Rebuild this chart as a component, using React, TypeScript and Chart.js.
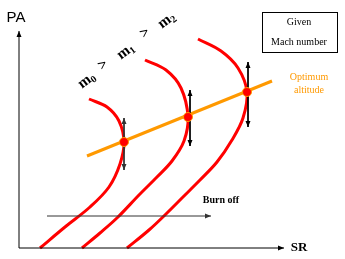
import React, { useEffect, useRef } from "react";
import { Chart, registerables } from "chart.js";

Chart.register(...registerables);

const W = 345;
const H = 259;

// Diagram coordinates (x to the right, y downward, same units as the picture)
const curveM0 = [
  { x: 89, y: 99 }, { x: 107, y: 107 }, { x: 119, y: 121 }, { x: 124, y: 142 },
  { x: 120, y: 164 }, { x: 109, y: 187 }, { x: 90, y: 207 }, { x: 65, y: 227 }, { x: 40, y: 248 },
];
const curveM1 = [
  { x: 145, y: 60 }, { x: 166, y: 70 }, { x: 181, y: 88 }, { x: 188, y: 117 },
  { x: 184, y: 141 }, { x: 172, y: 161 }, { x: 157, y: 177 }, { x: 139, y: 195 },
  { x: 118, y: 217 }, { x: 100, y: 233 }, { x: 82, y: 248 },
];
const curveM2 = [
  { x: 198, y: 39 }, { x: 221, y: 51 }, { x: 238, y: 68 }, { x: 247, y: 92 },
  { x: 243, y: 118 }, { x: 232, y: 140 }, { x: 217, y: 162 }, { x: 200, y: 180 },
  { x: 183, y: 197 }, { x: 167, y: 213 }, { x: 149, y: 230 }, { x: 127, y: 248 },
];
const optimumLine = [{ x: 87, y: 156 }, { x: 272, y: 81 }];
const optimumPoints = [{ x: 124, y: 142 }, { x: 188, y: 117 }, { x: 247, y: 92 }];

// arrows: from -> to, heads: "end" | "both"
const arrows = [
  { from: { x: 19, y: 248 }, to: { x: 19, y: 31 }, heads: "end", color: "#000000" },
  { from: { x: 19, y: 248 }, to: { x: 284, y: 248 }, heads: "end", color: "#000000" },
  { from: { x: 47, y: 216 }, to: { x: 211, y: 216 }, heads: "end", color: "#333333" },
  { from: { x: 124, y: 118 }, to: { x: 124, y: 170 }, heads: "both", color: "#333333" },
  { from: { x: 190, y: 90 }, to: { x: 190, y: 146 }, heads: "both", color: "#000000" },
  { from: { x: 248, y: 62 }, to: { x: 248, y: 127 }, heads: "both", color: "#000000" },
];

const machLabels = [
  { base: "m", sub: "0", x: 87, y: 80 },
  { base: ">", sub: "", x: 103, y: 65 },
  { base: "m", sub: "1", x: 126, y: 51 },
  { base: ">", sub: "", x: 145, y: 33 },
  { base: "m", sub: "2", x: 167, y: 20 },
];

const texts = [
  { text: "PA", x: 16, y: 18, font: "15px 'Liberation Sans', Arial, sans-serif", color: "#000", align: "center" },
  { text: "SR", x: 299, y: 248, font: "bold 13px 'Liberation Serif', 'Times New Roman', serif", color: "#000", align: "center" },
  { text: "Burn off", x: 221, y: 200, font: "bold 10px 'Liberation Serif', 'Times New Roman', serif", color: "#000", align: "center" },
  { text: "Given", x: 299, y: 22, font: "10px 'Liberation Serif', 'Times New Roman', serif", color: "#000", align: "center" },
  { text: "Mach number", x: 299, y: 42, font: "10px 'Liberation Serif', 'Times New Roman', serif", color: "#000", align: "center" },
  { text: "Optimum", x: 309, y: 77, font: "10px 'Liberation Serif', 'Times New Roman', serif", color: "#FF9900", align: "center" },
  { text: "altitude", x: 309, y: 90, font: "10px 'Liberation Serif', 'Times New Roman', serif", color: "#FF9900", align: "center" },
];
const givenBox = { x1: 262, y1: 12, x2: 337, y2: 52 };
const machAngle = -37;

const annotationPlugin = {
  id: "diagramAnnotations",
  afterDatasetsDraw(chart: any) {
    const ctx = chart.ctx;
    const xs = chart.scales.x;
    const ys = chart.scales.y;
    const px = (v: number) => xs.getPixelForValue(v);
    const py = (v: number) => ys.getPixelForValue(v);
    ctx.save();
    const head = (fx: number, fy: number, tx: number, ty: number, color: string) => {
      const a = Math.atan2(ty - fy, tx - fx);
      const len = 6;
      const half = 2.5;
      ctx.beginPath();
      ctx.moveTo(tx, ty);
      ctx.lineTo(tx - len * Math.cos(a) + half * Math.sin(a), ty - len * Math.sin(a) - half * Math.cos(a));
      ctx.lineTo(tx - len * Math.cos(a) - half * Math.sin(a), ty - len * Math.sin(a) + half * Math.cos(a));
      ctx.closePath();
      ctx.fillStyle = color;
      ctx.fill();
    };
    arrows.forEach((ar) => {
      const fx = px(ar.from.x), fy = py(ar.from.y), tx = px(ar.to.x), ty = py(ar.to.y);
      head(fx, fy, tx, ty, ar.color);
      if (ar.heads === "both") head(tx, ty, fx, fy, ar.color);
    });
    ctx.restore();
  },
  afterDraw(chart: any) {
    const ctx = chart.ctx;
    const xs = chart.scales.x;
    const ys = chart.scales.y;
    const px = (v: number) => xs.getPixelForValue(v);
    const py = (v: number) => ys.getPixelForValue(v);
    ctx.save();
    ctx.strokeStyle = "#000";
    ctx.lineWidth = 1;
    const bx1 = Math.round(px(givenBox.x1)) + 0.5, by1 = Math.round(py(givenBox.y1)) + 0.5;
    const bx2 = Math.round(px(givenBox.x2)) + 0.5, by2 = Math.round(py(givenBox.y2)) + 0.5;
    ctx.strokeRect(bx1, by1, bx2 - bx1, by2 - by1);
    texts.forEach((t) => {
      ctx.font = t.font;
      ctx.fillStyle = t.color;
      ctx.textAlign = t.align;
      ctx.textBaseline = "middle";
      ctx.fillText(t.text, px(t.x), py(t.y));
    });
    machLabels.forEach((m) => {
      ctx.save();
      ctx.translate(px(m.x), py(m.y));
      ctx.rotate((machAngle * Math.PI) / 180);
      ctx.fillStyle = "#000";
      ctx.textBaseline = "middle";
      ctx.textAlign = "left";
      ctx.font = "bold 15px 'Liberation Serif', 'Times New Roman', serif";
      const w = ctx.measureText(m.base).width;
      const total = w + (m.sub ? 6 : 0);
      ctx.fillText(m.base, -total / 2, 0);
      if (m.sub) {
        ctx.font = "bold 10px 'Liberation Serif', 'Times New Roman', serif";
        ctx.fillText(m.sub, -total / 2 + w, 4);
      }
      ctx.restore();
    });
    ctx.restore();
  },
};

export default function App() {
  const ref = useRef<HTMLCanvasElement | null>(null);
  useEffect(() => {
    if (!ref.current) return;
    const curveStyle = {
      showLine: true,
      borderColor: "#FF0000",
      borderWidth: 3,
      pointRadius: 0,
      tension: 0.35,
      fill: false,
      order: 5,
    };
    const datasets: any[] = [
      { ...curveStyle, label: "m0", data: curveM0 },
      { ...curveStyle, label: "m1", data: curveM1 },
      { ...curveStyle, label: "m2", data: curveM2 },
      {
        label: "Optimum altitude",
        data: optimumLine,
        showLine: true,
        borderColor: "#FF9900",
        borderWidth: 3,
        pointRadius: 0,
        order: 4,
      },
      ...arrows.map((ar, i) => ({
        label: "arrow" + i,
        data: [ar.from, ar.to],
        showLine: true,
        borderColor: ar.color,
        borderWidth: 1,
        pointRadius: 0,
        order: 3,
      })),
      {
        label: "optimum points",
        data: optimumPoints,
        showLine: false,
        pointRadius: 4.5,
        pointBackgroundColor: "#FF0000",
        pointBorderColor: "#FF9900",
        pointBorderWidth: 1,
        order: 1,
      },
    ];
    const chart = new Chart(ref.current, {
      type: "scatter",
      data: { datasets },
      options: {
        animation: false,
        responsive: false,
        maintainAspectRatio: false,
        layout: { padding: 0, autoPadding: false },
        plugins: { legend: { display: false }, tooltip: { enabled: false } },
        scales: {
          x: { type: "linear", min: 0, max: W, display: false },
          y: { type: "linear", min: 0, max: H, reverse: true, display: false },
        },
      },
      plugins: [annotationPlugin],
    } as any);
    return () => chart.destroy();
  }, []);
  return (
    <div style={{ position: "fixed", left: 0, top: 0, width: W, height: H, background: "#fff" }}>
      <canvas ref={ref} width={W} height={H} style={{ display: "block", width: W, height: H }} />
    </div>
  );
}
